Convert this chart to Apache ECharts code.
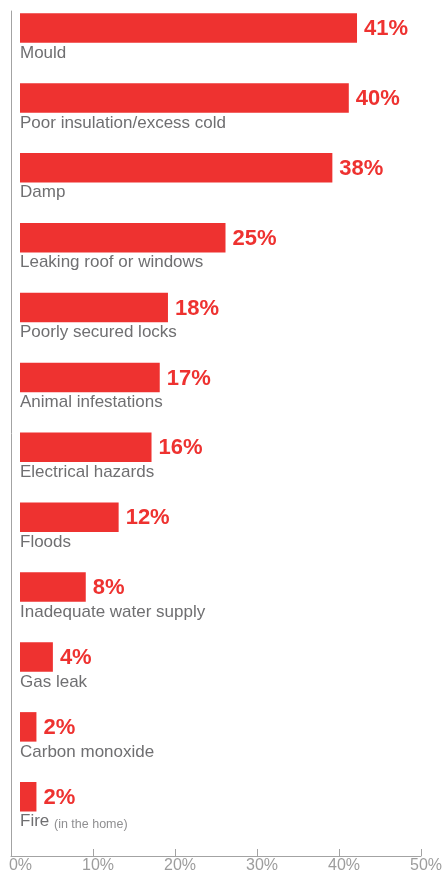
<!DOCTYPE html>
<html>
<head>
<meta charset="utf-8">
<script src="https://cdn.jsdelivr.net/npm/echarts@6/dist/echarts.min.js"></script>
<style>
html,body{margin:0;padding:0;background:#fff;}
#chart{width:444px;height:879px;}
</style>
</head>
<body>
<div id="chart"></div>
<script>
const categories = [
  'Mould',
  'Poor insulation/excess cold',
  'Damp',
  'Leaking roof or windows',
  'Poorly secured locks',
  'Animal infestations',
  'Electrical hazards',
  'Floods',
  'Inadequate water supply',
  'Gas leak',
  'Carbon monoxide',
  'Fire (in the home)'
];
const values = [41, 40, 38, 25, 18, 17, 16, 12, 8, 4, 2, 2];
const tickValues = [0, 10, 20, 30, 40, 50];

const RED = '#ee3230';
const FONT = '"Liberation Sans", Arial, Helvetica, sans-serif';

const chart = echarts.init(document.getElementById('chart'), null, {renderer: 'canvas'});

chart.setOption({
  animation: false,
  backgroundColor: '#fff',
  grid: [
    {left: 11, right: 23, top: 11, bottom: 23, containLabel: false, outerBoundsMode: 'none'},
    {left: 20, right: 13, top: -6.9, bottom: 47.3, containLabel: false, outerBoundsMode: 'none'}
  ],
  xAxis: [
    {
      gridIndex: 0, type: 'value',
      min: tickValues[0], max: tickValues[tickValues.length - 1], interval: 10,
      axisLine: {show: true, lineStyle: {color: '#a3a3a3', width: 1}},
      axisTick: {show: true, inside: true, length: 7, lineStyle: {color: '#a3a3a3', width: 1}},
      splitLine: {show: false},
      axisLabel: {
        margin: 2,
        formatter: function (v) { return v === 0 ? '{z|0%}' : '{n|' + v + '%}'; },
        rich: {
          z: {padding: [0, 0, 0, 19], fontSize: 16, color: '#9d9d9d', fontFamily: FONT},
          n: {padding: [0, 0, 0, 10], fontSize: 16, color: '#9d9d9d', fontFamily: FONT}
        }
      }
    },
    {
      gridIndex: 1, type: 'value', min: 0, max: 50, show: false
    }
  ],
  yAxis: [
    {
      gridIndex: 0, type: 'value', min: 0, max: 1,
      axisLine: {show: true, lineStyle: {color: '#a3a3a3', width: 1}},
      axisTick: {show: false}, axisLabel: {show: false}, splitLine: {show: false}
    },
    {
      gridIndex: 1, type: 'category', data: categories, inverse: true,
      axisLine: {show: false}, axisTick: {show: false}, splitLine: {show: false},
      axisLabel: {
        show: true, inside: true, margin: 0, align: 'left', verticalAlign: 'top',
        padding: [15, 0, 0, 0],
        fontSize: 17, lineHeight: 20, color: '#6f6f71', fontFamily: FONT,
        formatter: function (name) {
          const i = name.indexOf(' (');
          if (i >= 0) {
            return name.slice(0, i) + ' {s|' + name.slice(i + 1) + '}';
          }
          return name;
        },
        rich: {
          s: {fontSize: 12.5, color: '#8f8f91', fontFamily: FONT, lineHeight: 20, verticalAlign: 'bottom', padding: [0,0,1,0]}
        }
      }
    }
  ],
  series: [
    {
      type: 'bar',
      xAxisIndex: 1, yAxisIndex: 1,
      data: values,
      barWidth: 29.5,
      itemStyle: {color: RED},
      label: {
        show: true, position: 'right', distance: 7,
        formatter: '{c}%',
        fontSize: 22, fontWeight: 'bold', color: RED, fontFamily: FONT,
        offset: [0, 1]
      }
    }
  ]
});
</script>
</body>
</html>
